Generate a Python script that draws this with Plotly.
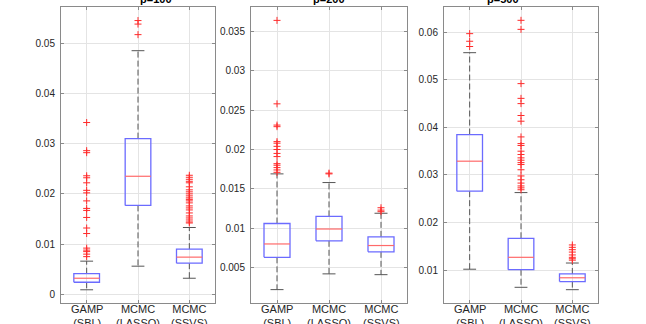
import plotly.graph_objects as go

METHODS = ["GAMP<br>(SBL)", "MCMC<br>(LASSO)", "MCMC<br>(SSVS)"]
TITLES = ["p=100", "p=200", "p=500"]

# box statistics, order: GAMP (SBL), MCMC (LASSO), MCMC (SSVS)
P100_LOW = [0.0009, 0.0056, 0.0032]
P100_Q1 = [0.0024, 0.0177, 0.0062]
P100_MED = [0.0032, 0.0235, 0.0074]
P100_Q3 = [0.0041, 0.0310, 0.0090]
P100_HIGH = [0.0066, 0.0485, 0.0133]
P100_OUT = [
    [0.0342, 0.0286, 0.0282, 0.0236, 0.0232, 0.0222, 0.0207, 0.0202, 0.0186,
     0.0171, 0.0167, 0.0153, 0.0132, 0.0121, 0.0092, 0.0088, 0.0085, 0.0080, 0.0075],
    [0.0545, 0.0538, 0.0517],
    [0.0237, 0.0233, 0.0229, 0.0225, 0.0222, 0.0214, 0.0208, 0.0204, 0.0200,
     0.0196, 0.0192, 0.0189, 0.0186, 0.0182, 0.0176, 0.0172, 0.0168, 0.0162,
     0.0156, 0.0152, 0.0148, 0.0144, 0.0142],
]

P200_LOW = [0.0022, 0.0042, 0.0041]
P200_Q1 = [0.0063, 0.0084, 0.0070]
P200_MED = [0.0080, 0.0099, 0.0078]
P200_Q3 = [0.0106, 0.0115, 0.0089]
P200_HIGH = [0.0169, 0.0158, 0.0119]
P200_OUT = [
    [0.0364, 0.0258, 0.0231, 0.0229, 0.0210, 0.0208, 0.0204, 0.0200, 0.0195,
     0.0191, 0.0182, 0.0180, 0.0177, 0.0174, 0.0171],
    [0.0170, 0.0169],
    [0.0126, 0.0123, 0.0121],
]

P500_LOW = [0.0102, 0.0064, 0.0059]
P500_Q1 = [0.0266, 0.0101, 0.0076]
P500_MED = [0.0329, 0.0127, 0.0084]
P500_Q3 = [0.0385, 0.0167, 0.0092]
P500_HIGH = [0.0557, 0.0263, 0.0115]
P500_OUT = [
    [0.0597, 0.0581, 0.0570],
    [0.0625, 0.0606, 0.0492, 0.0461, 0.0450, 0.0425, 0.0413, 0.0380, 0.0366,
     0.0362, 0.0350, 0.0343, 0.0336, 0.0331, 0.0326, 0.0322, 0.0311, 0.0298,
     0.0290, 0.0283, 0.0277, 0.0273, 0.0269],
    [0.0153, 0.0148, 0.0143, 0.0138, 0.0132, 0.0127, 0.0124, 0.0121],
]

Y_TICKS = [
    [0, 0.01, 0.02, 0.03, 0.04, 0.05],
    [0.005, 0.01, 0.015, 0.02, 0.025, 0.03, 0.035],
    [0.01, 0.02, 0.03, 0.04, 0.05, 0.06],
]
Y_RANGES = [[-0.00173, 0.0572], [0.0005, 0.0381], [0.0031, 0.0653]]

PANELS = [
    (P100_LOW, P100_Q1, P100_MED, P100_Q3, P100_HIGH, P100_OUT),
    (P200_LOW, P200_Q1, P200_MED, P200_Q3, P200_HIGH, P200_OUT),
    (P500_LOW, P500_Q1, P500_MED, P500_Q3, P500_HIGH, P500_OUT),
]

W, H = 646, 324
DOMAINS = [[61 / W, 215 / W], [251 / W, 407 / W], [444 / W, 598 / W]]
HALF = 0.25   # half box width
CAP = 0.125   # half whisker cap width
FONT = "Liberation Sans, Arial, sans-serif"
FRAME = "#8a8a8a"

fig = go.Figure()

for p, (low, q1, med, q3, high, out) in enumerate(PANELS):
    xa = "x" if p == 0 else "x%d" % (p + 1)
    ya = "y" if p == 0 else "y%d" % (p + 1)
    wx, wy, cx, cy, bx, by, mx, my, ox, oy = [], [], [], [], [], [], [], [], [], []
    for i in range(3):
        pos = i + 1
        # whiskers
        wx += [pos, pos, None, pos, pos, None]
        wy += [q3[i], high[i], None, q1[i], low[i], None]
        # caps
        cx += [pos - CAP, pos + CAP, None, pos - CAP, pos + CAP, None]
        cy += [high[i], high[i], None, low[i], low[i], None]
        # box
        bx += [pos - HALF, pos + HALF, pos + HALF, pos - HALF, pos - HALF, None]
        by += [q1[i], q1[i], q3[i], q3[i], q1[i], None]
        # median
        mx += [pos - HALF, pos + HALF, None]
        my += [med[i], med[i], None]
        ox += [pos] * len(out[i])
        oy += out[i]
    common = dict(xaxis=xa, yaxis=ya, showlegend=False, hoverinfo="skip")
    fig.add_trace(go.Scatter(x=wx, y=wy, mode="lines",
                             line=dict(color="#555555", width=1, dash="6px,3px"), **common))
    fig.add_trace(go.Scatter(x=cx, y=cy, mode="lines",
                             line=dict(color="#555555", width=1), **common))
    fig.add_trace(go.Scatter(x=bx, y=by, mode="lines",
                             line=dict(color="#6b6bff", width=1.3), **common))
    fig.add_trace(go.Scatter(x=mx, y=my, mode="lines",
                             line=dict(color="#ff6a6a", width=1.2), **common))
    fig.add_trace(go.Scatter(x=ox, y=oy, mode="markers",
                             marker=dict(symbol="cross-thin", size=5,
                                         line=dict(color="#ff2a2a", width=1)),
                             **common))

    axis_common = dict(showline=True, linecolor=FRAME, linewidth=1, mirror="ticks",
                       ticks="inside", ticklen=3, tickcolor=FRAME,
                       showgrid=True, gridcolor="#e4e4e4", gridwidth=1,
                       zeroline=False,
                       tickfont=dict(family=FONT, size=10, color="#262626"))
    xkey = "xaxis" if p == 0 else "xaxis%d" % (p + 1)
    ykey = "yaxis" if p == 0 else "yaxis%d" % (p + 1)
    fig.update_layout({
        xkey: dict(domain=DOMAINS[p], anchor=ya, range=[0.5, 3.5],
                   tickvals=[1, 2, 3], showticklabels=False, **axis_common),
        ykey: dict(domain=[0, 1], anchor=xa, range=Y_RANGES[p],
                   tickvals=Y_TICKS[p], ticktext=["%g" % v for v in Y_TICKS[p]],
                   ticklabelstandoff=3, **axis_common),
    })
    # method labels under each box
    for i, name in enumerate(METHODS):
        fig.add_annotation(text=name, xref=xa, yref="paper", x=i + 1, y=0,
                           yanchor="top", yshift=2, showarrow=False,
                           font=dict(family=FONT, size=11, color="#262626"))
    fig.add_annotation(text="<b>%s</b>" % TITLES[p], xref="paper", yref="paper",
                       x=sum(DOMAINS[p]) / 2, y=1, yanchor="middle", yshift=8,
                       showarrow=False, font=dict(family=FONT, size=11, color="#000000"))

fig.update_layout(width=W, height=H, margin=dict(l=0, r=0, t=7, b=21),
                  plot_bgcolor="white", paper_bgcolor="white")

fig.write_html("out.html", config={"displayModeBar": False},
               post_script="document.body.style.margin='0';")
